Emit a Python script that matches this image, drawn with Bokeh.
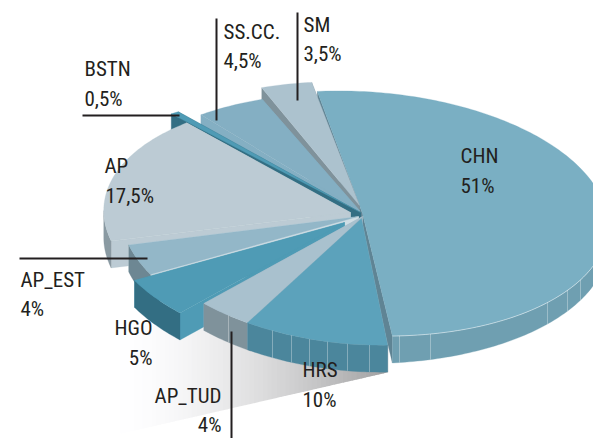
import math
from bokeh.plotting import figure
from bokeh.models import ColumnDataSource
from bokeh.core.properties import value
from bokeh.embed import file_html
from bokeh.resources import INLINE

# ---- data (clockwise from the front edge of CHN) ----
categories = ["HRS", "AP_TUD", "HGO", "AP_EST", "AP", "BSTN", "SS.CC.", "SM", "CHN"]
shares = [10, 4, 5, 4, 17.5, 0.5, 4.5, 3.5, 51]

# ---- style ----
top_col = ["#5ca2bb", "#a9c1ce", "#4f9bb5", "#93b7c8", "#bccbd4", "#4f9bb5", "#84afc3", "#acc2ce", "#7aafc3"]
rim_col = ["#4b869c", "#7f929b", "#336e83", "#6d8793", "#8a9aa2", "#336e83", "#6f96a8", "#7f929b", "#6f9fb1"]
face_col = ["#a3b8c4", "#a3b8c4", "#4f9bb5", "#cfdde4", "#bccbd4", "#336e83", "#84afc3", "#7f929b", "#5f8494"]
# rim offset x, y, radial scale x, y
shift = [(-3, 3, .97, 1.05), (0, 9.5, .97, 1), (-19, 19, 1, 1), (-3, 13, 1, 1), (-16, 9, 1.02, 1),
         (0, 0, 1.22, 1), (0, 6, 1.07, 1.03), (-7, -9, 1, 1), (0, 0, 1.03, 1)]
apex_at = [(361, 218), (362, 216), (344, 222), (358, 216), (350, 212), (360, 212), (359, 210), (359, 205), (362, 213)]
draw_order = [8, 7, 6, 5, 4, 3, 2, 1, 0]
seams = {8: [399, 430, 547, 567, 580], 0: [272, 291, 309, 327, 347, 369], 1: [228]}
CX, CY, RX, RY, SHEAR = 362, 213, 238, 122, 0.05
START = 83.0

INK = "#231f20"
FONT = "Roboto Condensed, Noto Sans Condensed, Open Sans Condensed, Lato, Roboto"
TEXT_LIFT = 8


def depth(x):
    return 27 - 0.035 * max(0, x - 389)


def pt(t, i):
    dx, dy, sx, sy = shift[i]
    c, n = math.cos(math.radians(t)), math.sin(math.radians(t))
    return CX + dx + sx * RX * c, CY + dy + sy * RY * n + SHEAR * RX * c


def arc(t0, t1, i):
    n = max(2, int(abs(t1 - t0)) + 2)
    return [pt(t0 + (t1 - t0) * k / (n - 1), i) for k in range(n)]


bounds = []
a = START
for v in shares:
    bounds.append((a, a + v * 3.6))
    a += v * 3.6

xs, ys, cols = [], [], []


def add(points, col):
    xs.append([q[0] for q in points])
    ys.append([q[1] for q in points])
    cols.append(col)


def down(points):
    return [(x, y + depth(x)) for x, y in points]


for i in draw_order:
    t0, t1 = bounds[i]
    A = apex_at[i]
    for t in (t0, t1):
        E = pt(t, i)
        add([A, E] + down([E, A]), face_col[i])
    for lo, hi in ((0, 180), (360, 540)):
        u0, u1 = max(t0, lo), min(t1, hi)
        if u1 > u0:
            r = arc(u0, u1, i)
            add(r + down(r)[::-1], rim_col[i])
    add([A] + arc(t0, t1, i), top_col[i])

p = figure(width=593, height=438, x_range=(0, 593), y_range=(438, 0),
           toolbar_location=None, output_backend="svg", min_border=0)
p.axis.visible = False
p.grid.visible = False
p.outline_line_color = None

# ground shadow
N = 60
sx, sy, sc = [], [], []
low = lambda x: 372 + (x - 387) * (-56 / 244)
for k in range(N):
    x0 = 120 + (387 - 120) * k / N
    x1 = 120 + (387 - 120) * (k + 1) / N + 0.6
    f = (k + 0.5) / N
    g = int(255 - 95 * f ** 1.6)
    sx.append([x0, x1, x1, x0])
    sy.append([325, 325, low(x1), low(x0)])
    sc.append(f"#{g:02x}{g:02x}{min(255, g + 1):02x}")
p.patches(sx, sy, fill_color=sc, line_color=None)

src = ColumnDataSource(dict(xs=xs, ys=ys, c=cols))
p.patches("xs", "ys", source=src, fill_color="c", line_color="c", line_width=0.3)

# rim seams
for i, marks in seams.items():
    for x in marks:
        dx, dy, s, _ = shift[i]
        t = math.degrees(math.acos((x - CX - dx) / (s * RX)))
        px, py = pt(t, i)
        p.line([px, px], [py, py + depth(px)], line_color="#ffffff", line_alpha=0.4, line_width=0.8)

# pale edge along the front of the big slice
r = arc(360, bounds[8][1], 8)
p.line([q[0] for q in r], [q[1] for q in r], line_color="#ffffff", line_alpha=0.6, line_width=0.8)

# leader lines
leaders = [([82, 179], [115, 115]), ([216, 216], [18, 120]), ([297, 297], [12, 100]),
           ([19, 147], [258, 258]), ([231, 231], [331, 438])]
for lx, ly in leaders:
    p.line(lx, ly, line_color=INK, line_width=2)


def pct(v):
    return f"{v:g}".replace(".", ",") + "%"


share = dict(zip(categories, shares))
label_pos = {
    "BSTN": (84, 76, 84, 106, "left"),
    "SS.CC.": (223, 39, 223, 68, "left"),
    "SM": (303, 32, 303, 61, "left"),
    "AP": (104, 173, 105, 203, "left"),
    "CHN": (460, 163, 460, 193, "left"),
    "AP_EST": (20, 287, 20, 316, "left"),
    "HGO": (152, 335, 152, 365, "right"),
    "AP_TUD": (221, 403, 221, 432, "right"),
    "HRS": (302, 377, 302, 407, "left"),
}
tx, ty, tt, ta = [], [], [], []
for name, (x1, y1, x2, y2, al) in label_pos.items():
    tx += [x1, x2]
    ty += [y1 - TEXT_LIFT, y2 - TEXT_LIFT]
    tt += [name, pct(share[name])]
    ta += [al, al]
p.text(tx, ty, text=tt, text_align=ta, text_baseline="alphabetic",
       text_font=value(FONT), text_font_size="21px", text_color=INK)

open("out.html", "w").write(file_html(p, INLINE))
